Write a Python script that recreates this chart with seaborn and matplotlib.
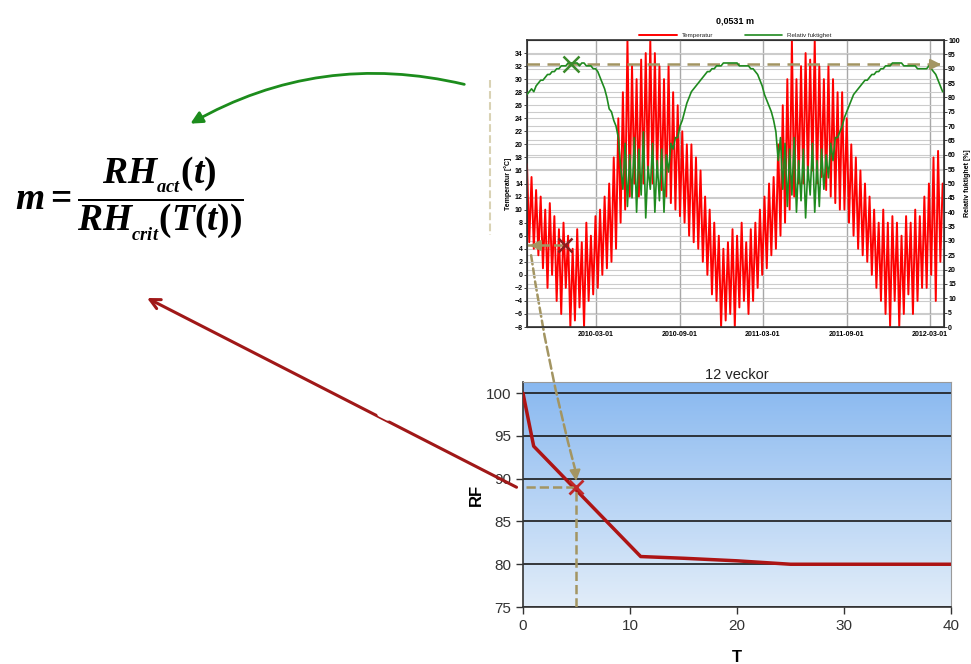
import numpy as np
import pandas as pd
import matplotlib
matplotlib.use("Agg")
import matplotlib.pyplot as plt
import matplotlib.dates as mdates
from matplotlib.colors import LinearSegmentedColormap
from matplotlib.patches import ConnectionPatch, FancyArrowPatch
from matplotlib.lines import Line2D
import seaborn as sns

# --- data ------------------------------------------------------------------
# temperature [°C] and relative humidity [%] at 0,0531 m, one value every 5 days
start = "2009-10-01"
temp = [
    17, 5, 15, 4, 13, 3,        # okt 2009
    12, 1, 10, -2, 11, 0,       # nov
    9, -4, 7, -6, 8, -2,        # dec
    6, -8, 4, -7, 7, -5,        # jan 2010
    5, -8, 8, -4, 6, -3,        # feb
    9, -2, 10, 0, 12, 1,        # mar
    14, 2, 18, 4, 24, 8,        # apr
    28, 10, 36, 12, 32, 14,     # maj
    30, 12, 33, 14, 34, 15,     # jun
    36, 14, 34, 15, 32, 13,     # jul
    30, 12, 32, 11, 28, 10,     # aug
    26, 9, 22, 8, 20, 6,        # sep
    20, 5, 18, 4, 16, 2,        # okt
    12, 0, 10, -3, 8, -4,       # nov
    6, -8, 4, -7, 5, -6,        # dec
    7, -8, 6, -5, 8, -4,        # jan 2011
    5, -6, 7, -4, 8, -2,        # feb
    10, 0, 12, 1, 14, 3,        # mar
    15, 4, 20, 6, 26, 8,        # apr
    30, 10, 36, 12, 30, 14,     # maj
    32, 14, 34, 15, 33, 16,     # jun
    36, 14, 32, 15, 30, 13,     # jul
    32, 12, 30, 11, 28, 10,     # aug
    28, 10, 24, 8, 20, 6,       # sep
    18, 4, 16, 3, 14, 2,        # okt
    12, 0, 10, -2, 8, -4,       # nov
    10, -6, 8, -8, 9, -4,       # dec
    8, -8, 6, -6, 9, -3,        # jan 2012
    8, -6, 10, -4, 9, -2,       # feb
    12, -2, 14, 0, 18, -4, 19, 2, 14,  # mar
]
rh = [
    81, 82, 83, 82, 84, 85,
    86, 86, 87, 88, 88, 89,
    89, 90, 90, 91, 91, 91,
    92, 92, 92, 92, 92, 91,
    92, 92, 91, 91, 91, 90,
    90, 89, 87, 85, 83, 80,
    76, 75, 72, 70, 66, 56,
    48, 64, 42, 60, 45, 66,
    40, 62, 46, 68, 38, 56,
    48, 64, 40, 58, 44, 62,
    40, 60, 54, 64, 62, 66,
    66, 70, 72, 75, 78, 80,
    82, 83, 84, 85, 86, 87,
    88, 89, 89, 90, 90, 91,
    91, 91, 92, 92, 92, 92,
    92, 92, 92, 91, 91, 91,
    91, 91, 90, 90, 89, 88,
    86, 84, 81, 79, 77, 75,
    72, 68, 58, 66, 48, 64,
    42, 62, 46, 66, 40, 58,
    44, 62, 38, 56, 46, 64,
    40, 58, 42, 62, 48, 60,
    52, 64, 58, 66, 66, 68,
    70, 73, 75, 77, 79, 81,
    82, 83, 84, 85, 86, 86,
    87, 88, 88, 89, 89, 90,
    90, 91, 91, 91, 92, 92,
    92, 92, 92, 91, 91, 91,
    91, 91, 91, 90, 90, 90,
    90, 90, 91, 90, 89, 88, 86, 84, 82,
]
date_ticks = ["2010-03-01", "2010-09-01", "2011-03-01", "2011-09-01", "2012-03-01"]

# critical RH, 12 weeks
T_crit = [0, 1, 11, 15, 20, 25, 40]
RF_crit = [100, 93.8, 80.9, 80.7, 80.4, 80.0, 80.0]

# example point used in the sketch
rh_point_date, rh_point = "2010-01-06", 91.5
t_point_date, t_point = "2009-12-24", 4.5
T_point, RF_point = 5, 89

# --- style -------------------------------------------------------------------
sns.set_style("white")
plt.rcParams["font.family"] = ["Liberation Sans", "DejaVu Sans"]
plt.rcParams["mathtext.fontset"] = "custom"
plt.rcParams["mathtext.it"] = "Liberation Serif:italic:bold"
plt.rcParams["mathtext.rm"] = "Liberation Serif:bold"

tan = "#a39562"
red = "#ff0000"
green = "#1f8a1f"
dark_red = "#ad1414"

dates = pd.date_range(start, periods=len(temp), freq="5D")
df = pd.DataFrame({"date": dates, "temp": temp, "rh": rh})

fig = plt.figure(figsize=(9.71, 6.64), dpi=100)

# --- top chart: temperature / RH time series ------------------------------
ax_t = fig.add_axes([0.5427, 0.5075, 0.4295, 0.4322])
ax_rh = ax_t.twinx()
ax_g = ax_t.twinx()
ax_rh.set_zorder(0)
ax_t.set_zorder(1)
ax_g.set_zorder(2)
ax_rh.patch.set_visible(True)
ax_rh.patch.set_facecolor("white")
ax_t.patch.set_visible(False)
ax_g.patch.set_visible(False)

sns.lineplot(data=df, x="date", y="temp", ax=ax_t, color=red, lw=1.4, label="Temperatur", legend=False)
sns.lineplot(data=df, x="date", y="rh", ax=ax_g, color=green, lw=1.2, label="Relativ fuktighet", legend=False)

xlim = (pd.Timestamp("2009-10-01"), pd.Timestamp("2012-04-01"))
ax_t.set_xlim(xlim)
ax_t.set_ylim(-8, 36)
ax_rh.set_ylim(0, 100)
ax_g.set_ylim(0, 100)

ax_t.set_yticks(np.arange(-8, 35, 2))
ax_rh.set_yticks(np.arange(0, 101, 5))
ax_t.set_xticks(pd.to_datetime(date_ticks))
ax_t.xaxis.set_major_formatter(mdates.DateFormatter("%Y-%m-%d"))

ax_t.yaxis.grid(True, color="#cccccc", lw=0.8)
ax_rh.yaxis.grid(True, color="#cccccc", lw=0.8)
ax_t.xaxis.grid(True, color="#a8a8a8", lw=1.0)
ax_g.axis("off")

for a in (ax_t, ax_rh):
    a.tick_params(labelsize=5, length=2, width=0.6, pad=1, labelcolor="black")
    for lab in a.get_yticklabels() + a.get_xticklabels():
        lab.set_fontweight("bold")
for s in ax_t.spines.values():
    s.set_color("#333333")
    s.set_linewidth(1.2)

ax_t.set_xlabel("")
ax_t.set_ylabel("Temperatur [°C]", fontsize=5, fontweight="bold", labelpad=2, color="black")
ax_rh.set_ylabel("Relativ fuktighet [%]", fontsize=5, fontweight="bold", labelpad=3, color="black")
ax_t.set_title("0,0531 m", fontsize=6.5, fontweight="bold", pad=12, color="black")

handles = ax_t.get_lines()[:1] + ax_g.get_lines()[:1]
ax_t.legend(handles, [h.get_label() for h in handles], loc="lower center",
            bbox_to_anchor=(0.5, 0.995), ncol=2, frameon=False, fontsize=4.5,
            handlelength=6, columnspacing=5, borderaxespad=0.2)

# markers and dashed guides in the time series
ax_g.plot(pd.Timestamp(rh_point_date), rh_point, marker="x", ms=11, mew=1.8, color="#3a8a2a")
ax_g.axhline(rh_point, color=tan, ls="--", lw=1.8, dashes=(5, 3), zorder=1)
ax_g.annotate("", xy=(1.0, rh_point), xycoords=("axes fraction", "data"),
              xytext=(0.965, rh_point), textcoords=("axes fraction", "data"),
              arrowprops=dict(arrowstyle="-|>", color=tan, lw=1.5, mutation_scale=16))

ax_g.plot(pd.Timestamp(t_point_date), (t_point + 8) / 44 * 100, marker="x", ms=10, mew=1.8, color="#8b1f1f")
ax_t.hlines(t_point, xlim[0], pd.Timestamp(t_point_date), color=tan, ls="--", lw=1.8)
ax_t.annotate("", xy=(0.0, t_point), xycoords=("axes fraction", "data"),
              xytext=(0.04, t_point), textcoords=("axes fraction", "data"),
              arrowprops=dict(arrowstyle="-|>", color=tan, lw=1.5, mutation_scale=16))

# --- bottom chart: critical RH --------------------------------------------
ax_b = fig.add_axes([0.5386, 0.0858, 0.4408, 0.3389])
grad = LinearSegmentedColormap.from_list("bg", ["#88b8f0", "#e2edf9"])
ax_b.imshow(np.linspace(0, 1, 256).reshape(-1, 1), extent=[0, 40, 75, 101.3],
            aspect="auto", cmap=grad, origin="upper", zorder=0)
sns.lineplot(x=T_crit, y=RF_crit, ax=ax_b, color=dark_red, lw=2.5, zorder=3)
ax_b.set_xlim(0, 40)
ax_b.set_ylim(75, 101.3)
ax_b.set_xticks([0, 10, 20, 30, 40])
ax_b.set_yticks([75, 80, 85, 90, 95, 100])
ax_b.yaxis.grid(True, color="#1a1a1a", lw=1.2)
ax_b.set_axisbelow(True)
ax_b.tick_params(labelsize=11, length=5, width=1, colors="#333333", left=True, bottom=True)
for side in ("left", "bottom"):
    ax_b.spines[side].set_color("#333333")
    ax_b.spines[side].set_linewidth(1.2)
for side in ("top", "right"):
    ax_b.spines[side].set_color("#9a9a9a")
ax_b.set_title("12 veckor", fontsize=10.5, pad=2, color="#222222")
ax_b.set_xlabel("T", fontsize=12, fontweight="bold", labelpad=12, color="black")
ax_b.set_ylabel("RF", fontsize=12, fontweight="bold", labelpad=1, color="black")

ax_b.hlines(RF_point, 0.3, T_point, color=tan, ls="--", lw=1.8, zorder=4)
ax_b.vlines(T_point, 75, RF_point, color=tan, ls="--", lw=1.8, zorder=4)
ax_b.plot(T_point, RF_point, marker="x", ms=10, mew=2, color="#c0282a", zorder=5)
ax_b.annotate("", xy=(T_point, RF_point + 0.4), xytext=(4.85, 91.2),
              arrowprops=dict(arrowstyle="-|>", color=tan, lw=1.5, mutation_scale=16), zorder=6)

# dashed link from the time series to the curve
link = ConnectionPatch(xyA=(0.01, 3.0), coordsA=ax_t.get_yaxis_transform(),
                       xyB=(4.85, 91.2), coordsB=ax_b.transData,
                       color=tan, lw=1.8, ls="--", connectionstyle="arc3,rad=0.03")
fig.add_artist(link)

# --- formula and arrows -------------------------------------------------------
fig.text(0.133, 0.70, r"$m=\dfrac{RH_{_{act}}(t)}{RH_{_{crit}}(T(t))}$", fontsize=27,
         ha="center", va="center", color="black")

green_arrow = FancyArrowPatch((467 / 971, 1 - 85 / 664), (188 / 971, 1 - 125 / 664),
                              transform=fig.transFigure, connectionstyle="arc3,rad=0.2",
                              arrowstyle="-|>", mutation_scale=18, color="#1c8c1c", lw=2)
fig.add_artist(green_arrow)

red_arrow = ConnectionPatch(xyA=(-0.6, RF_point), coordsA=ax_b.transData,
                            xyB=(147 / 971, 1 - 298 / 664), coordsB="figure fraction",
                            arrowstyle="->", mutation_scale=18, color="#a01818", lw=2.2)
fig.add_artist(red_arrow)
# small white break in the red arrow, as in the sketch
fig.add_artist(Line2D([380 / 971, 388 / 971], [1 - 414 / 664, 1 - 418 / 664],
                      transform=fig.transFigure, color="white", lw=4))

fig.add_artist(Line2D([490 / 971, 490 / 971], [1 - 80 / 664, 1 - 235 / 664],
                      transform=fig.transFigure, color="#d9d2b4", ls="--", lw=1.5))

fig.savefig("out.png", dpi=100)
